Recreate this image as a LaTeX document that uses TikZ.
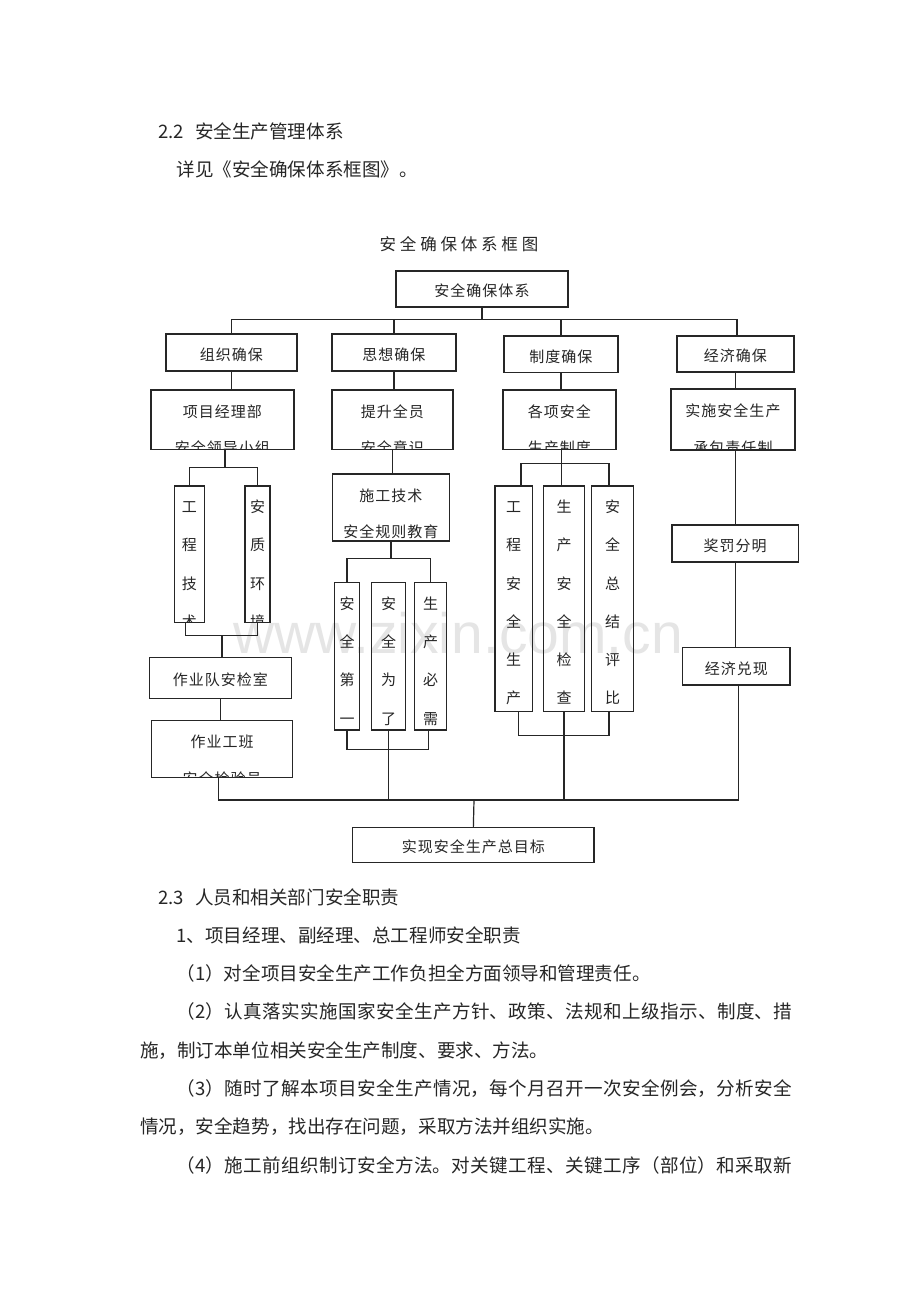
\documentclass[tikz,border=0pt]{standalone}
\usepackage{fontspec}
\usetikzlibrary{calc}
\newfontfamily\cjk{Noto Sans CJK SC}
\newfontfamily\cjkbox[LetterSpace=6.7]{Noto Sans CJK SC}
\newfontfamily\cjktitle[LetterSpace=23]{Noto Sans CJK SC}
\newfontfamily\wmfont{Liberation Sans}
\newcommand\jline[2]{\parbox[t]{#1}{\XeTeXlinebreaklocale "zh"\XeTeXlinebreakskip=0pt plus 4pt\tolerance=10000\parfillskip=0pt\relax #2}}
\tikzset{
  bx/.style={draw=black!85, line width=1.2pt, inner sep=0pt, outer sep=0pt},
  bt/.style={font={\cjkbox\fontsize{15}{18}\selectfont}, text=black!85, inner sep=0pt, text height=13.2pt, text depth=1.8pt},
  body/.style={font={\cjk\fontsize{18.55}{22}\selectfont}, text=black!85, inner sep=0pt, anchor=west, text height=16.3pt, text depth=2.2pt},
  ttl/.style={font={\cjktitle\fontsize{16.5}{20}\selectfont}, text=black!85, inner sep=0pt, text height=14.5pt, text depth=2pt},
  ln/.style={draw=black!85, line width=1.2pt}
}
% single-line box
\newcommand\onebox[6]{%
  \node[bx, minimum width={#4-#2}, minimum height={#5-#3}, anchor=north west] (#1) at (#2,#3) {};
  \node[bt] (#1-t) at ($(#1.center)+(0,2)$) {#6};}
% two-line box, second line clipped by the border
\newcommand\twobox[8]{%
  \node[bx, minimum width={#4-#2}, minimum height={#5-#3}, anchor=north west] (#1) at (#2,#3) {};
  \begin{scope}
    \clip (#1.south west) rectangle (#1.north east);
    \node[bt] (#1-a) at ($(#1.north)+(0,21.3)$) {#6};
    \node[bt] (#1-b) at ($(#1.north)+(0,#8)$) {#7};
  \end{scope}}
% vertical text box
\newcommand\vtbox[6]{%
  \node[bx, minimum width={#4-#2}, minimum height={#5-#3}, anchor=north west] (#1) at (#2,#3) {};
  \begin{scope}
    \clip (#1.south west) rectangle (#1.north east);
    \foreach \ch [count=\i from 0] in {#6} {\node[bt] (#1-\i) at ($(#1.north)+(0,{20.7+38.3*\i})$) {\ch};}
  \end{scope}}
\begin{document}
\begin{tikzpicture}[x=1pt, y=-1pt]
\fill[white] (0,0) rectangle (920,1302);
\useasboundingbox (0,0) rectangle (920,1302);

% watermark
\node[font={\wmfont\fontsize{57}{60}\selectfont}, text=black!10, anchor=base, inner sep=0pt] (wm) at (458,653) {www.zixin.com.cn};

% body text above
\node[body] (h22) at (158,131) {\makebox[37pt][l]{2.2}安全生产管理体系};
\node[body] (p0) at (176.4,169) {详见《安全确保体系框图》。};
\node[ttl] (title) at (459,244) {安全确保体系框图};

% boxes
\onebox{A}{396}{271}{568}{307}{安全确保体系}
\onebox{zz}{166}{334}{297}{371}{组织确保}
\onebox{sx}{332}{334}{456}{371}{思想确保}
\onebox{zd}{504}{336}{618}{372.7}{制度确保}
\onebox{jj}{677}{336}{794}{372}{经济确保}

\twobox{xm}{151}{390}{294}{449.5}{项目经理部}{安全领导小组}{57.5}
\twobox{ts}{332}{390}{453}{449.5}{提升全员}{安全意识}{57.5}
\twobox{gx}{503}{390}{616}{449.5}{各项安全}{生产制度}{57.5}
\twobox{ss}{671}{389}{795}{450}{实施安全生产}{承包责任制}{58.5}

\vtbox{gc}{174.3}{486}{204.3}{622.7}{工,程,技,术}
\vtbox{az}{245}{486}{270}{622.7}{安,质,环,境}
\onebox{zyd}{149.3}{657.7}{291.7}{698.3}{作业队安检室}
\twobox{zyb}{151.7}{720.7}{292.7}{777.7}{作业工班}{安全检验员}{58}

\twobox{sg}{332.3}{474}{449.3}{541}{施工技术}{安全规则教育}{57.7}
\vtbox{ad}{334.3}{582.7}{359.7}{730}{安,全,第,一}
\vtbox{aw}{371.7}{582.7}{405.7}{730}{安,全,为,了}
\vtbox{sb}{414.3}{582.7}{446.7}{730}{生,产,必,需}

\vtbox{g1}{495}{486}{532.3}{711.7}{工,程,安,全,生,产}
\vtbox{g2}{543.3}{486}{584.7}{711.7}{生,产,安,全,检,查}
\vtbox{g3}{591.7}{486}{633.3}{711.7}{安,全,总,结,评,比}

\onebox{jf}{672}{525}{798.3}{562}{奖罚分明}
\onebox{jd}{682.7}{647.7}{790}{685}{经济兑现}

\onebox{mb}{352.7}{827.7}{594}{862.3}{实现安全生产总目标}

% connectors
\coordinate (tb) at (482,319.3);
\draw[ln] (A.south) -- (tb);
\draw[ln] (zz.north) |- (tb) -| ([xshift=1.5pt]jj.north);
\draw[ln] (sx.north) -- (sx.north |- tb);
\draw[ln] (zd.north) -- (zd.north |- tb);
\draw[ln] (zz.south) -- (zz.south |- xm.north);
\draw[ln] (sx.south) -- (sx.south |- ts.north);
\draw[ln] (zd.south) -- (zd.south |- gx.north);
\draw[ln] (jj.south) -- (jj.south |- ss.north);

% left branch
\coordinate (j1) at (225,467.3);
\draw[ln] (j1 |- xm.south) -- (j1);
\draw[ln] (gc.north) |- (j1) -| (az.north);
\coordinate (j2) at (222,635.7);
\draw[ln] ([xshift=-4pt]gc.south) |- (j2) -| (az.south);
\draw[ln] (j2) -- (j2 |- zyd.north);
\draw[ln] (zyd.south) -- (zyd.south |- zyb.north);
\coordinate (bus) at (474,800);
\draw[ln] ([xshift=-4pt]zyb.south) |- (bus);
\draw[ln] ([xshift=2.5pt]jd.south) |- (bus);
\draw[ln] (bus) -- (mb.north);

% middle branch
\draw[ln] (ts.south) -- (ts.south |- sg.north);
\coordinate (j3) at (391,558.3);
\draw[ln] (j3 |- sg.south) -- (j3);
\draw[ln] (ad.north) |- (j3) -| (sb.north);
\coordinate (j4) at (388,749.3);
\draw[ln] (ad.south) |- (j4) -| ([xshift=-2pt]sb.south);
\draw[ln] (aw.south) -- (aw.south |- bus);

% right-middle branch
\coordinate (j5) at (561.7,463.3);
\draw[ln] (j5 |- gx.south) -- (j5 |- g2.north);
\draw[ln] ([xshift=7.3pt]g1.north) |- (j5) -| ([xshift=-3.5pt]g3.north);
\coordinate (j6) at (564,735.7);
\draw[ln] ([xshift=5pt]g1.south) |- (j6) -| ([xshift=-3.5pt]g3.south);
\draw[ln] (g2.south) -- (g2.south |- bus);

% right branch
\draw[ln] (jf.north |- ss.south) -- (jf.north);
\draw[ln] (jf.south) -- (jf.south |- jd.north);

% body text below
\node[body] (h23) at (158,897) {\makebox[37pt][l]{2.3}人员和相关部门安全职责};
\node[body] (p1) at (176.4,935.3) {1、项目经理、副经理、总工程师安全职责};
\node[body] (p2) at (176.4,973.6) {（1）对全项目安全生产工作负担全方面领导和管理责任。};
\node[body] (p3) at (176.4,1011.9) {\jline{615.6pt}{（2）认真落实实施国家安全生产方针、政策、法规和上级指示、制度、措}};
\node[body] (p4) at (140,1050.2) {施，制订本单位相关安全生产制度、要求、方法。};
\node[body] (p5) at (176.4,1088.5) {\jline{615.6pt}{（3）随时了解本项目安全生产情况，每个月召开一次安全例会，分析安全}};
\node[body] (p6) at (140,1126.8) {情况，安全趋势，找出存在问题，采取方法并组织实施。};
\node[body] (p7) at (176.4,1165.1) {\jline{615.6pt}{（4）施工前组织制订安全方法。对关键工程、关键工序（部位）和采取新}};
\end{tikzpicture}
\end{document}
